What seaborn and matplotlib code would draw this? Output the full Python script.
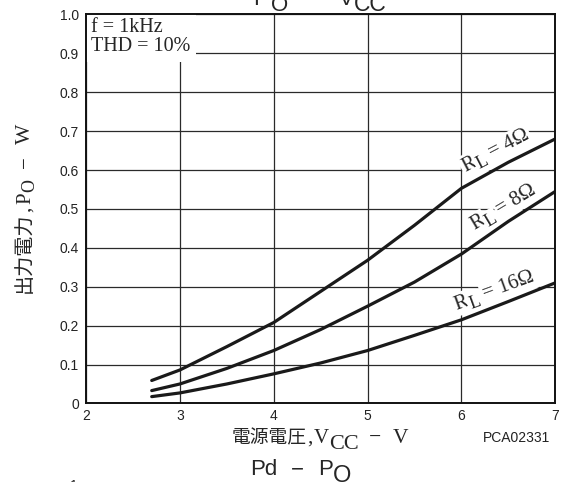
import matplotlib
matplotlib.use('Agg')
import numpy as np
import pandas as pd
import matplotlib.pyplot as plt
from matplotlib.transforms import IdentityTransform
import seaborn as sns

# 電源電圧 (V) と出力電力 (W) のデータ
vcc = [2.7, 3.0, 3.5, 4.0, 4.5, 5.0, 5.5, 6.0, 6.5, 7.0]
po_4ohm = [0.059, 0.086, 0.146, 0.208, 0.288, 0.368, 0.458, 0.553, 0.620, 0.680]
po_8ohm = [0.033, 0.050, 0.090, 0.136, 0.190, 0.250, 0.312, 0.384, 0.468, 0.545]
po_16ohm = [0.0175, 0.027, 0.050, 0.076, 0.104, 0.136, 0.175, 0.215, 0.262, 0.310]
loads = ['4Ω', '8Ω', '16Ω']

xticks = [2, 3, 4, 5, 6, 7]
yticks = [0, 0.1, 0.2, 0.3, 0.4, 0.5, 0.6, 0.7, 0.8, 0.9, 1.0]
ytick_labels = ['0', '0.1', '0.2', '0.3', '0.4', '0.5', '0.6', '0.7', '0.8', '0.9', '1.0']

# ラベルの開始位置 (V, W) と角度
label_pos = [(6.04, 0.596), (6.14, 0.445), (5.95, 0.241)]
label_rot = [27.5, 31, 20]

df = pd.DataFrame({
    'Vcc': vcc * 3,
    'Po': po_4ohm + po_8ohm + po_16ohm,
    'RL': [loads[0]] * len(vcc) + [loads[1]] * len(vcc) + [loads[2]] * len(vcc),
})

sns.set_style('white')
SERIF = ['Liberation Serif', 'DejaVu Serif']
SANS = ['Liberation Sans', 'DejaVu Sans']
CJK = ['Noto Sans CJK JP', 'DejaVu Sans']
plt.rcParams['font.family'] = ['Liberation Serif', 'Noto Sans CJK JP']

fig = plt.figure(figsize=(5.66, 4.82), dpi=100)
ax = fig.add_axes([0.152, 0.163, 0.829, 0.807])
renderer = fig.canvas.get_renderer()
H = 482


def pieces(host, x0, y0, parts, angle=0, zorder=3, box=False):
    # 文字列を少しずつ並べる (下付き文字用). x0, y0 はピクセル(左下原点)
    c, s = np.cos(np.radians(angle)), np.sin(np.radians(angle))
    x, y = x0, y0
    for txt, size, drop, fam, gap in parts:
        kw = dict(fontsize=size, family=fam, transform=IdentityTransform(),
                  ha='left', va='baseline', zorder=zorder)
        if box:
            kw['bbox'] = dict(facecolor='white', edgecolor='none', pad=1.5)
        t = host.text(x + drop * s, y - drop * c, txt, **kw)
        w = t.get_window_extent(renderer).width
        t.set_rotation(angle)
        t.set_rotation_mode('anchor')
        x += (w + gap) * c
        y += (w + gap) * s


sns.lineplot(data=df, x='Vcc', y='Po', hue='RL', palette=['#1a1a1a'] * 3,
             linewidth=2.3, legend=False, ax=ax)

ax.set_xlim(2, 7)
ax.set_ylim(0, 1.0)
ax.set_xticks(xticks)
ax.set_yticks(yticks)
ax.set_yticklabels(ytick_labels)
ax.tick_params(length=0, labelsize=10, colors='#222222')
ax.tick_params(axis='y', pad=5)
ax.tick_params(axis='x', pad=4)
for lab in ax.get_xticklabels() + ax.get_yticklabels():
    lab.set_fontfamily('Liberation Sans')
ax.set_xlabel('')
ax.set_ylabel('')

ax.grid(True, color='#2a2a2a', linewidth=0.9)
ax.set_axisbelow(True)
for sp in ax.spines.values():
    sp.set_color('#111111')
    sp.set_linewidth(1.4)

ax.text(0.01, 0.99, 'f = 1kHz\nTHD = 10%', transform=ax.transAxes, fontsize=14.5,
        family=SERIF, va='top', ha='left', linespacing=0.95,
        bbox=dict(facecolor='white', edgecolor='none', pad=4.5), zorder=1.5)

# 負荷抵抗ラベル
for name, (vx, vy), rot in zip(loads, label_pos, label_rot):
    px, py = ax.transData.transform((vx, vy))
    pieces(ax, px, py, [('R', 15, 0, SERIF, 0), ('L', 13, 4, SERIF, 5),
                        ('= ' + name, 15, 0, SERIF, 0)],
           angle=rot, zorder=1.5, box=True)

# 軸ラベル
pieces(fig, 231.7, H - 443, [('電源電圧', 13.5, 0, CJK, 0), (',', 15, 0, SERIF, 2),
                            ('V', 15, 0, SERIF, 0), ('CC', 16, 6, SERIF, 10),
                            ('−', 15.5, 0, SERIF, 12), ('V', 15.5, 0, SERIF, 0)])
pieces(fig, 30, H - 293, [('出力電力', 14.5, 0, CJK, 0), (',', 15, 0, SERIF, 3),
                         ('P', 15, 0, SERIF, 0), ('O', 13, 4, SERIF, 11),
                         ('−', 15, 0, SERIF, 13), ('W', 15.5, 0, SERIF, 0)], angle=90)

fig.text(516 / 566, 1 - 438 / H, 'PCA02331', fontsize=10, family=SANS,
         ha='center', va='center', color='#222222')
pieces(fig, 250, H - 475, [('Pd', 16, 0, SANS, 14), ('−', 16, 0, SANS, 14),
                          ('P', 16, 0, SANS, 0), ('O', 17, 7, SANS, 0)])
pieces(fig, 253, H - 5, [('P', 16, 0, SANS, 3), ('O', 16, 6, SANS, 19),
                        ('−', 16, 0, SANS, 19), ('V', 16, 0, SANS, 0),
                        ('CC', 16.5, 6, SANS, 0)])
fig.text(78 / 566, 1 - 479 / H, '1', fontsize=10, family=SANS, ha='right', va='top')

fig.savefig('out.png', dpi=100)
